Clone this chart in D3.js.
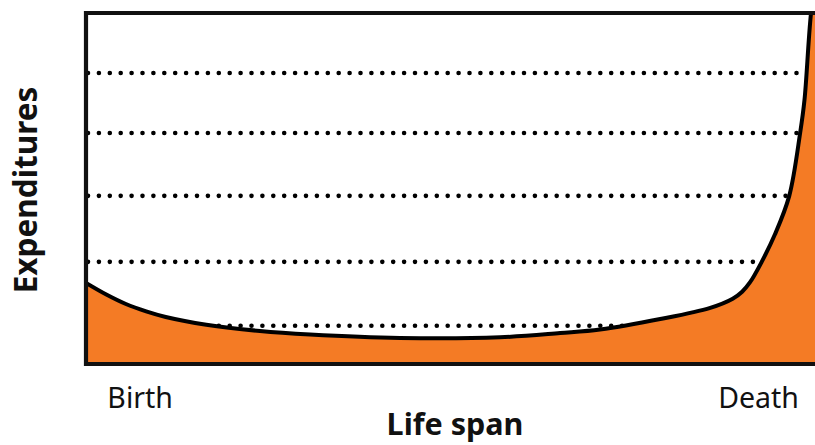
<!DOCTYPE html>
<html>
<head>
<meta charset="utf-8">
<script src="https://cdn.jsdelivr.net/npm/d3@7"></script>
<style>
  html, body { margin: 0; padding: 0; background: #fff; }
  svg { display: block; }
  text { font-family: 'Noto Sans', 'Open Sans', sans-serif; fill: #111; }
</style>
</head>
<body>
<div id="wrapper"></div>
<script>
// life span (0 = birth, 100 = death) and expenditure level
const lifeSpan = [0, 2.8, 5.5, 8.3, 11, 16.6, 24, 30.9, 43.3, 57.1, 65.4, 70.9, 79.2, 86.1, 89.2, 90.5, 91.6, 93.2, 95, 97, 98.5, 99.1, 100, 101.5]
const expenditures = [23.1, 19.8, 17.1, 15, 13.4, 11.2, 9.4, 8.4, 7.4, 7.6, 8.8, 9.8, 12.8, 16, 18.6, 20.6, 23.3, 29.1, 36.8, 47.9, 65.8, 75.2, 100, 125]
const gridValues = [10.9, 29.1, 47.9, 65.8, 82.9]
const tickValues = [7.4, 92.7]
const tickLabels = ['Birth', 'Death']

const dataset = lifeSpan.map((x, i) => ({ x: x, y: expenditures[i] }))

const dimensions = {
  width: 815,
  height: 445,
  margin: { top: 13, right: 0, bottom: 81, left: 86 },
}
dimensions.boundedWidth = 725
dimensions.boundedHeight =
  dimensions.height - dimensions.margin.top - dimensions.margin.bottom

const xScale = d3.scaleLinear().domain([0, 100]).range([0, dimensions.boundedWidth])
const yScale = d3.scaleLinear().domain([0, 100]).range([dimensions.boundedHeight, 0])

const wrapper = d3
  .select('#wrapper')
  .append('svg')
  .attr('width', dimensions.width)
  .attr('height', dimensions.height)

const bounds = wrapper
  .append('g')
  .attr('transform', `translate(${dimensions.margin.left}, ${dimensions.margin.top})`)

// clip everything to the inside of the frame
bounds
  .append('clipPath')
  .attr('id', 'plot-clip')
  .append('rect')
  .attr('x', 0)
  .attr('y', 0)
  .attr('width', 760)
  .attr('height', dimensions.boundedHeight)

// dotted guide lines
bounds
  .append('g')
  .attr('class', 'grid')
  .selectAll('line')
  .data(gridValues)
  .enter()
  .append('line')
  .attr('x1', 2)
  .attr('x2', 712)
  .attr('y1', (d) => yScale(d))
  .attr('y2', (d) => yScale(d))
  .attr('stroke', '#000')
  .attr('stroke-width', 4.6)
  .attr('stroke-linecap', 'round')
  .attr('stroke-dasharray', '0 10.9')

const plot = bounds.append('g').attr('clip-path', 'url(#plot-clip)')

const curve = d3.curveCatmullRom.alpha(0.5)

const areaGenerator = d3
  .area()
  .x((d) => xScale(d.x))
  .y0(yScale(0))
  .y1((d) => yScale(d.y))
  .curve(curve)

const lineGenerator = d3
  .line()
  .x((d) => xScale(d.x))
  .y((d) => yScale(d.y))
  .curve(curve)

plot.append('path').datum(dataset).attr('d', areaGenerator).attr('fill', '#f47b25')

plot
  .append('path')
  .datum(dataset)
  .attr('d', lineGenerator)
  .attr('fill', 'none')
  .attr('stroke', '#000')
  .attr('stroke-width', 4)

// frame (right side runs off the page)
bounds
  .append('path')
  .attr('d', `M760,0H0V${dimensions.boundedHeight}H760`)
  .attr('fill', 'none')
  .attr('stroke', '#111')
  .attr('stroke-width', 4.2)

// Birth / Death labels
const xAxisGenerator = d3
  .axisBottom(xScale)
  .tickValues(tickValues)
  .tickSize(0)
  .tickPadding(0)
  .tickFormat((d, i) => tickLabels[i])

const xAxis = bounds
  .append('g')
  .attr('transform', `translate(0, ${dimensions.boundedHeight})`)
  .call(xAxisGenerator)
xAxis.select('.domain').remove()
xAxis
  .selectAll('text')
  .attr('dy', null)
  .attr('y', 44)
  .attr('font-size', '28.5px')
  .attr('font-family', "'Noto Sans', sans-serif")
  .attr('fill', '#111')

// axis titles
wrapper
  .append('text')
  .attr('x', 455)
  .attr('y', 435)
  .attr('text-anchor', 'middle')
  .attr('font-size', '30.5px')
  .attr('font-weight', 'bold')
  .text('Life span')

wrapper
  .append('text')
  .attr('transform', 'translate(37, 190) rotate(-90)')
  .attr('text-anchor', 'middle')
  .attr('font-size', '31.5px')
  .attr('font-weight', 'bold')
  .text('Expenditures')
</script>
</body>
</html>
